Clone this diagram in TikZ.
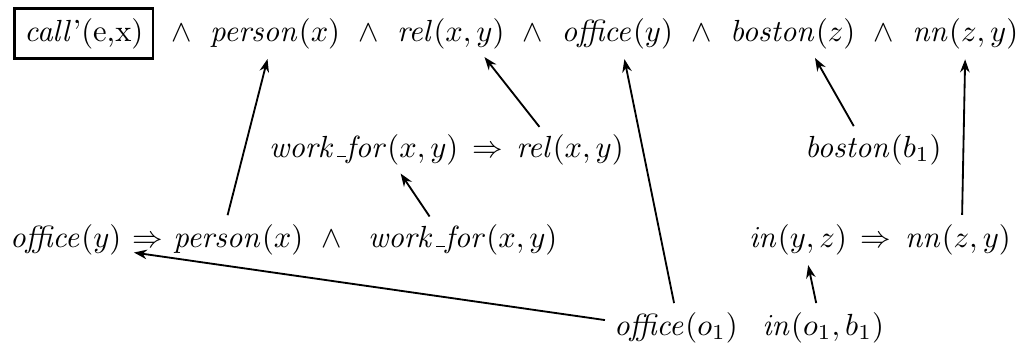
\documentclass[tikz,border=0pt]{standalone}
\usepackage{tikz}
\usetikzlibrary{positioning, arrows.meta, calc}

\newcommand{\usc}{\kern.06em\vbox{\hrule width.3em}}
\newcommand{\pred}[1]{\mathit{#1}}

\begin{document}
\begin{tikzpicture}[
  x=0.327pt, y=-0.327pt,
  term/.style={inner sep=0pt, outer sep=0pt},
  goal/.style={draw, line width=0.8pt, inner sep=3.2pt, outer sep=0pt},
  infer/.style={-{Stealth[length=1.5mm, width=1.1mm]}, line width=0.6pt,
                shorten <=3pt, shorten >=3.5pt},
]
  \useasboundingbox (0,0) rectangle (1025,351);

  % --- goal: the logical form to be proved ---
  \node[goal, anchor=base west] (call) at (14.5,41) {$\pred{call}$'(e,x)};
  \node[term, base right=6pt of call]   (and1)   {$\wedge$};
  \node[term, base right=6pt of and1]   (person) {$\pred{person}(x)$};
  \node[term, base right=6pt of person] (and2)   {$\wedge$};
  \node[term, base right=6pt of and2]   (rel)    {$\pred{rel}(x,y)$};
  \node[term, base right=6pt of rel]    (and3)   {$\wedge$};
  \node[term, base right=6pt of and3]   (office) {$\pred{office}(y)$};
  \node[term, base right=6pt of office] (and4)   {$\wedge$};
  \node[term, base right=6pt of and4]   (boston) {$\pred{boston}(z)$};
  \node[term, base right=6pt of boston] (and5)   {$\wedge$};
  \node[term, base right=6pt of and5]   (nn)     {$\pred{nn}(z,y)$};

  % --- axioms ---
  \node[term, anchor=base west] (workA) at (269,157) {$\pred{work}\usc\pred{for}(x,y)$};
  \node[term, base right=4.5pt of workA] (imp1) {$\Rightarrow$};
  \node[term, base right=4.5pt of imp1]  (relA) {$\pred{rel}(x,y)$};

  \node[term, anchor=base west] (bostonB) at (805,157) {$\pred{boston}(b_1)$};

  \node[term, anchor=base west] (officeY) at (10,247) {$\pred{office}(y)$};
  \node[term, base right=3.5pt of officeY] (imp2)    {$\Rightarrow$};
  \node[term, base right=3.5pt of imp2]    (personA) {$\pred{person}(x)$};
  \node[term, base right=6pt of personA]   (and6)    {$\wedge$};
  \node[term, base right=8.5pt of and6]    (workB)   {$\pred{work}\usc\pred{for}(x,y)$};

  \node[term, anchor=base west] (inYZ) at (749,247) {$\pred{in}(y,z)$};
  \node[term, base right=4.5pt of inYZ] (imp3) {$\Rightarrow$};
  \node[term, base right=4.5pt of imp3] (nnA)  {$\pred{nn}(z,y)$};

  % --- facts ---
  \node[term, anchor=base west] (officeO) at (614,335) {$\pred{office}(o_1)$};
  \node[term, base right=8pt of officeO] (inOB) {$\pred{in}(o_1,b_1)$};

  % --- backchaining links ---
  \draw[infer] ($(personA.north)+(-13,0)$) -- ($(person.south)+(-5,0)$);
  \draw[infer] ($(relA.north)+(-25,0)$)    -- ($(rel.south)+(27,0)$);
  \draw[infer] (officeO.north)             -- ($(office.south)+(5,0)$);
  \draw[infer] ($(bostonB.north)+(-15,0)$) -- ($(boston.south)+(17,0)$);
  \draw[infer] ($(nnA.north)+(4,0)$)       -- (nn.south);
  \draw[infer] ($(workB.north)+(-28,0)$)   -- ($(workA.south)+(31,0)$);
  \draw[infer] ($(inOB.north)+(-5,0)$)     -- ($(inYZ.south)+(8,0)$);
  \draw[infer] ($(officeO.west)+(0,-6)$)   -- ($(officeY.base east)+(2,4)$);
\end{tikzpicture}
\end{document}
